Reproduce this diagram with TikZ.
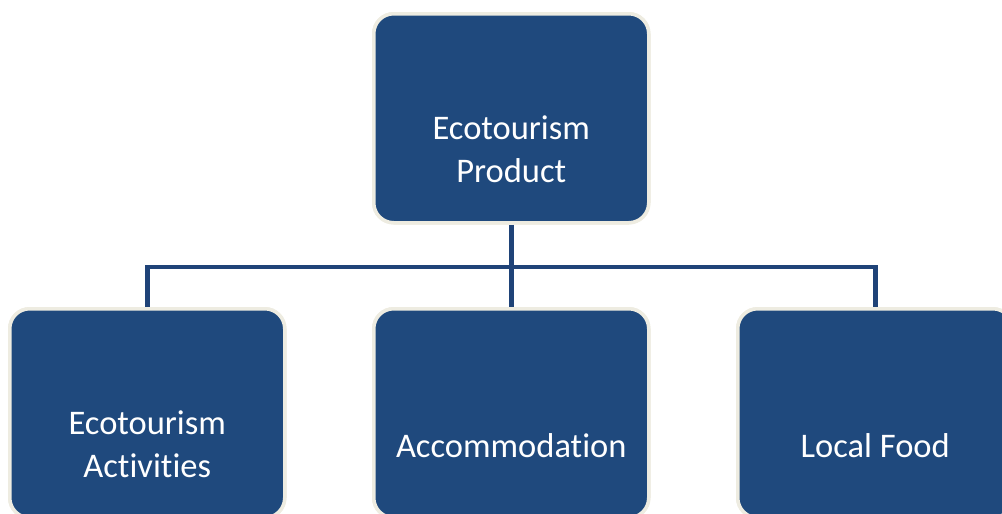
\documentclass[tikz,border=0pt]{standalone}
\usepackage{fontspec}
\setmainfont{Carlito}[Ligatures={NoCommon,NoContextual}]
\definecolor{boxblue}{HTML}{1F497D}
\definecolor{linkblue}{HTML}{1F4378}
\definecolor{rim}{HTML}{EEECE1}
\begin{document}
\begin{tikzpicture}[x=1pt,y=-1pt,
  box/.style={draw=rim, line width=3.5pt, fill=boxblue, rounded corners=20pt,
    minimum width=275pt, minimum height=209pt, inner sep=0pt, anchor=north west},
  label/.style={text=white, font=\fontsize{34.5}{43}\selectfont, align=center},
  link/.style={draw=linkblue, line width=4.5pt}]
\useasboundingbox (0,0) rectangle (1002,514);
\clip (0,0) rectangle (1002,514);
% boxes (north west outer corner)
\node[box] (top) at (372,12) {};
\node[box] (left) at (8,307) {};
\node[box] (mid) at (372,307) {};
\node[box] (right) at (736,307) {};
% connectors
\coordinate (hub) at (top.south |- 0,267);
\draw[link] (top.south) -- (hub);
\draw[link] (left.north) |- (hub) -| (right.north);
\draw[link] (hub) -- (mid.north);
% redraw boxes over the line ends
\node[box] at (372,12) {};
\node[box] at (8,307) {};
\node[box] at (372,307) {};
\node[box] at (736,307) {};
% texts
\node[label] (ttop) at ([yshift=-31pt]top.center) {Ecotourism\\Product};
\node[label] (tleft) at ([yshift=-31pt]left.center) {Ecotourism\\Activities};
\node[label] (tmid) at ([yshift=-32pt]mid.center) {Accommodation};
\node[label] (tright) at ([yshift=-32pt]right.center) {Local Food};
\end{tikzpicture}
\end{document}
